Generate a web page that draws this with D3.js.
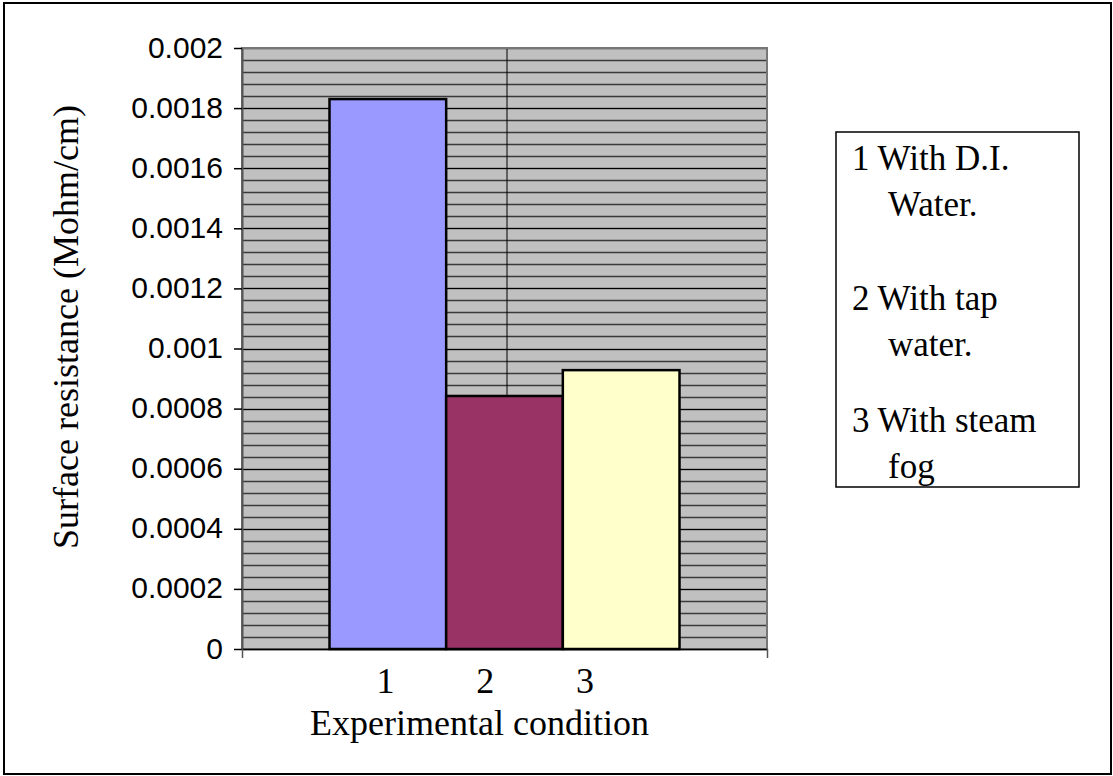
<!DOCTYPE html>
<html>
<head>
<meta charset="utf-8">
<script src="https://cdn.jsdelivr.net/npm/d3@7"></script>
<style>
  body { margin: 0; background: #fff; }
  svg { display: block; }
</style>
</head>
<body>
<svg id="chart" width="1113" height="776"></svg>
<script>
// data
const category = "1 2 3";
const seriesNames = ["1 With D.I. Water.", "2 With tap water.", "3 With steam fog"];
const seriesValues = [0.00183, 0.000842, 0.000928];
const seriesColors = ["#9999FF", "#993366", "#FFFFCC"];
const xTickLabels = ["1", "2", "3"];
const yTicks = [0, 0.0002, 0.0004, 0.0006, 0.0008, 0.001, 0.0012, 0.0014, 0.0016, 0.0018, 0.002];
const yTickLabels = ["0", "0.0002", "0.0004", "0.0006", "0.0008", "0.001", "0.0012", "0.0014", "0.0016", "0.0018", "0.002"];
const legendLines = [["1 With D.I.", "Water."], ["2 With tap", "water."], ["3 With steam", "fog"]];

const svg = d3.select("#chart");

// 圖表外框
svg.append("rect")
    .attr("x", 4).attr("y", 3)
    .attr("width", 1107).attr("height", 771)
    .attr("fill", "#fff").attr("stroke", "#000").attr("stroke-width", 2);

// plot area
const plot = { left: 242, top: 48, right: 767, bottom: 649 };

const Y_scale = d3.scaleLinear([0, 0.002], [plot.bottom, plot.top]);

// one category, three series side by side (gap width 150%)
const X0_scale = d3.scaleBand().domain([category])
    .range([plot.left, plot.right]).paddingInner(0).paddingOuter(0.25);
const X1_scale = d3.scaleBand().domain(seriesNames)
    .range([0, X0_scale.bandwidth()]).padding(0);

svg.append("rect")
    .attr("x", plot.left).attr("y", plot.top)
    .attr("width", plot.right - plot.left).attr("height", plot.bottom - plot.top)
    .attr("fill", "#C0C0C0");

// minor grid lines
const minorTicks = d3.range(0, 51).map(i => i * 0.00004);
svg.append("g").attr("class", "minor-grid")
    .selectAll("line").data(minorTicks).join("line")
    .attr("x1", plot.left).attr("x2", plot.right)
    .attr("y1", d => Math.round(Y_scale(d)) + 0.5)
    .attr("y2", d => Math.round(Y_scale(d)) + 0.5)
    .attr("stroke", "#3a3a3a").attr("stroke-width", 1.4);

// major grid lines
svg.append("g").attr("class", "major-grid")
    .selectAll("line").data(yTicks).join("line")
    .attr("x1", plot.left).attr("x2", plot.right)
    .attr("y1", d => Math.round(Y_scale(d)) + 0.5)
    .attr("y2", d => Math.round(Y_scale(d)) + 0.5)
    .attr("stroke", "#000").attr("stroke-width", 1.2);

// vertical grid line at the category centre
const xCenter = X0_scale(category) + X0_scale.bandwidth() / 2;
svg.append("line")
    .attr("x1", xCenter + 2.5).attr("x2", xCenter + 2.5)
    .attr("y1", plot.top).attr("y2", plot.bottom)
    .attr("stroke", "#000").attr("stroke-width", 1);

// plot border
svg.append("rect")
    .attr("x", plot.left).attr("y", plot.top)
    .attr("width", plot.right - plot.left).attr("height", plot.bottom - plot.top)
    .attr("fill", "none").attr("stroke", "#777").attr("stroke-width", 2);

// bars
svg.append("g").attr("class", "bars")
    .selectAll("rect").data(seriesValues).join("rect")
    .attr("x", (d, i) => X0_scale(category) + X1_scale(seriesNames[i]))
    .attr("y", d => Y_scale(d))
    .attr("width", X1_scale.bandwidth())
    .attr("height", d => Y_scale(0) - Y_scale(d))
    .attr("fill", (d, i) => seriesColors[i])
    .attr("stroke", "#000").attr("stroke-width", 2.5);

// y axis
const yAxis = d3.axisLeft(Y_scale).tickValues(yTicks)
    .tickFormat((d, i) => yTickLabels[i]).tickSizeInner(8).tickSizeOuter(0).tickPadding(11);
const yAxisDraw = svg.append("g").attr("transform", `translate(${plot.left},0)`).call(yAxis);
yAxisDraw.select(".domain").attr("stroke", "#555").attr("stroke-width", 2);
yAxisDraw.selectAll(".tick line").attr("stroke", "#000").attr("stroke-width", 1.5);
yAxisDraw.selectAll("text")
    .attr("font-family", "Liberation Sans, Arial, sans-serif")
    .attr("font-size", 30).attr("fill", "#000").attr("dy", "0.3em");

// x axis line with ticks at category boundaries
const xAxis = d3.axisBottom(d3.scaleLinear([0, 1], [plot.left, plot.right]))
    .tickValues([0, 1]).tickFormat("").tickSizeInner(9).tickSizeOuter(0);
const xAxisDraw = svg.append("g").attr("transform", `translate(0,${plot.bottom})`).call(xAxis);
xAxisDraw.select(".domain").attr("stroke", "#000").attr("stroke-width", 1.5);
xAxisDraw.selectAll(".tick line").attr("stroke", "#555").attr("stroke-width", 1.5);

// category label "1 2 3"
const labelScale = d3.scalePoint().domain(xTickLabels)
    .range([X0_scale(category) + 0.16 * X0_scale.bandwidth(), X0_scale(category) + 0.73 * X0_scale.bandwidth()]);
svg.append("g").selectAll("text").data(xTickLabels).join("text")
    .attr("x", d => labelScale(d))
    .attr("y", 693)
    .attr("text-anchor", "middle")
    .attr("font-family", "Liberation Serif, Times New Roman, serif")
    .attr("font-size", 36)
    .text(d => d);

// axis titles
svg.append("text")
    .attr("x", xCenter - 25).attr("y", 735)
    .attr("text-anchor", "middle")
    .attr("font-family", "Liberation Serif, Times New Roman, serif")
    .attr("font-size", 36)
    .text("Experimental condition");

svg.append("text")
    .attr("transform", "translate(78,327) rotate(-90)")
    .attr("text-anchor", "middle")
    .attr("font-family", "Liberation Serif, Times New Roman, serif")
    .attr("font-size", 36)
    .text("Surface resistance (Mohm/cm)");

// legend
const legend = svg.append("g").attr("class", "legend");
legend.append("rect")
    .attr("x", 836).attr("y", 132).attr("width", 243).attr("height", 355)
    .attr("fill", "#fff").attr("stroke", "#000").attr("stroke-width", 1.5);

const itemTop = [170, 310, 432];
legendLines.forEach((lines, i) => {
    const t = legend.append("text")
        .attr("font-family", "Liberation Serif, Times New Roman, serif")
        .attr("font-size", 35);
    lines.forEach((line, j) => {
        t.append("tspan")
            .attr("x", j === 0 ? 852 : 888)
            .attr("y", itemTop[i] + j * 46)
            .text(line);
    });
});
</script>
</body>
</html>
